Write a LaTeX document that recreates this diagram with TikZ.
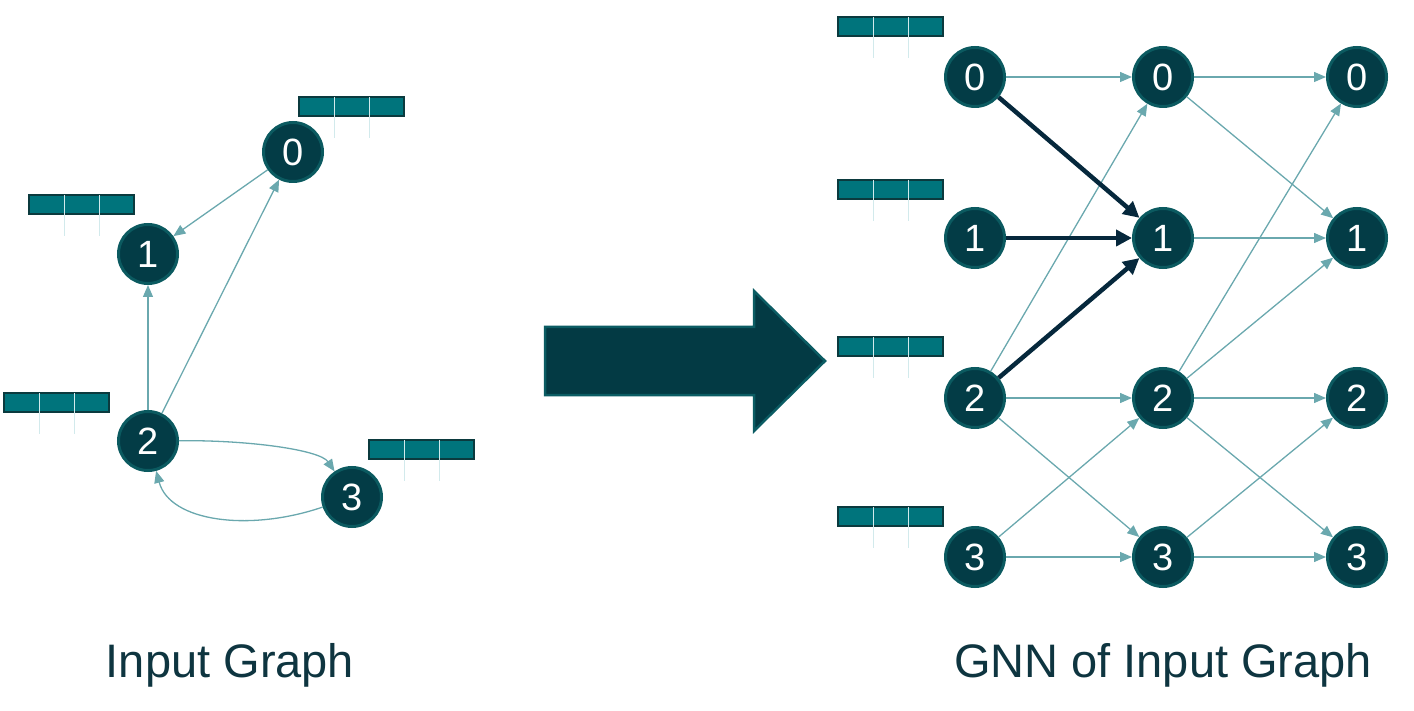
\documentclass[tikz,border=0pt]{standalone}
\usepackage{fontspec}
\setmainfont{Liberation Sans}
\usetikzlibrary{arrows.meta}
\definecolor{nodefill}{HTML}{033C46}
\definecolor{nodeline}{HTML}{0B5A60}
\definecolor{boxfill}{HTML}{00747C}
\definecolor{boxline}{HTML}{0B3A3E}
\definecolor{edgecol}{HTML}{6AA8AE}
\definecolor{darkedge}{HTML}{06283C}
\definecolor{divline}{HTML}{D2EAEC}
\definecolor{textcol}{HTML}{0E3540}
\definecolor{bigfill}{HTML}{033A44}
\definecolor{bigline}{HTML}{0B5C63}
\tikzset{
  gnode/.style={circle, fill=nodefill, draw=nodeline, line width=3pt, minimum size=59pt, inner sep=0pt, text=white, font=\fontsize{38}{38}\selectfont},
  edge/.style={draw=edgecol, line width=1.3pt, -{Triangle[length=12pt,width=10pt]}},
  hedge/.style={draw=darkedge, line width=4.5pt, -{Triangle[length=16pt,width=16pt]}},
  caption/.style={text=textcol, font=\fontsize{47}{47}\selectfont},
}
\newcommand\featbox[2]{%
  \fill[boxfill] (#1,#2) rectangle ++(105,19);
  \draw[boxline, line width=1.2pt] (#1,#2) rectangle ++(105,19);
  \draw[divline, line width=1pt] ({#1+35},#2) -- ({#1+35},{#2+41}) ({#1+70},#2) -- ({#1+70},{#2+41});
}
\begin{document}
\begin{tikzpicture}[x=1pt,y=-1pt]
\useasboundingbox (0,0) rectangle (1414,711);
% ---------- input graph ----------
\featbox{299}{97}
\featbox{29}{195}
\featbox{4}{393}
\featbox{369}{440}
\node[gnode] (L0) at (293,152) {0};
\node[gnode] (L1) at (148,254) {1};
\node[gnode] (L2) at (148,441) {2};
\node[gnode] (L3) at (352,497) {3};
\draw[edge] (L0) -- (L1);
\draw[edge] (L2) -- (L1);
\draw[edge] (L2) -- (L0);
\draw[edge] (L2) .. controls (250,440) and (320,450) .. (L3);
\draw[edge] (L3) .. controls (250,532) and (170,522) .. (L2);
% ---------- big arrow ----------
\filldraw[fill=bigfill, draw=bigline, line width=2.5pt]
  (545,327) -- (754,327) -- (754,291) -- (825,361) -- (754,431) -- (754,395) -- (545,395) -- cycle;
% ---------- GNN ----------
\featbox{838}{17}
\featbox{838}{180}
\featbox{838}{337}
\featbox{838}{507}
\foreach \c/\x in {a/975,b/1163,c/1357}{
  \node[gnode] (\c0) at (\x,77) {0};
  \node[gnode] (\c1) at (\x,238) {1};
  \node[gnode] (\c2) at (\x,398) {2};
  \node[gnode] (\c3) at (\x,557) {3};
}
% layer 1
\draw[edge] (a0) -- (b0);
\draw[edge] (a2) -- (b0);
\draw[edge] (a2) -- (b2);
\draw[edge] (a2) -- (b3);
\draw[edge] (a3) -- (b2);
\draw[edge] (a3) -- (b3);
\draw[hedge] (a0) -- (b1);
\draw[hedge] (a1) -- (b1);
\draw[hedge] (a2) -- (b1);
% layer 2
\draw[edge] (b0) -- (c0);
\draw[edge] (b0) -- (c1);
\draw[edge] (b1) -- (c1);
\draw[edge] (b2) -- (c0);
\draw[edge] (b2) -- (c1);
\draw[edge] (b2) -- (c2);
\draw[edge] (b2) -- (c3);
\draw[edge] (b3) -- (c2);
\draw[edge] (b3) -- (c3);
% ---------- captions ----------
\node[caption] (t1) at (230,665) {Input Graph};
\node[caption] (t2) at (1163,665) {GNN of Input Graph};
\end{tikzpicture}
\end{document}
